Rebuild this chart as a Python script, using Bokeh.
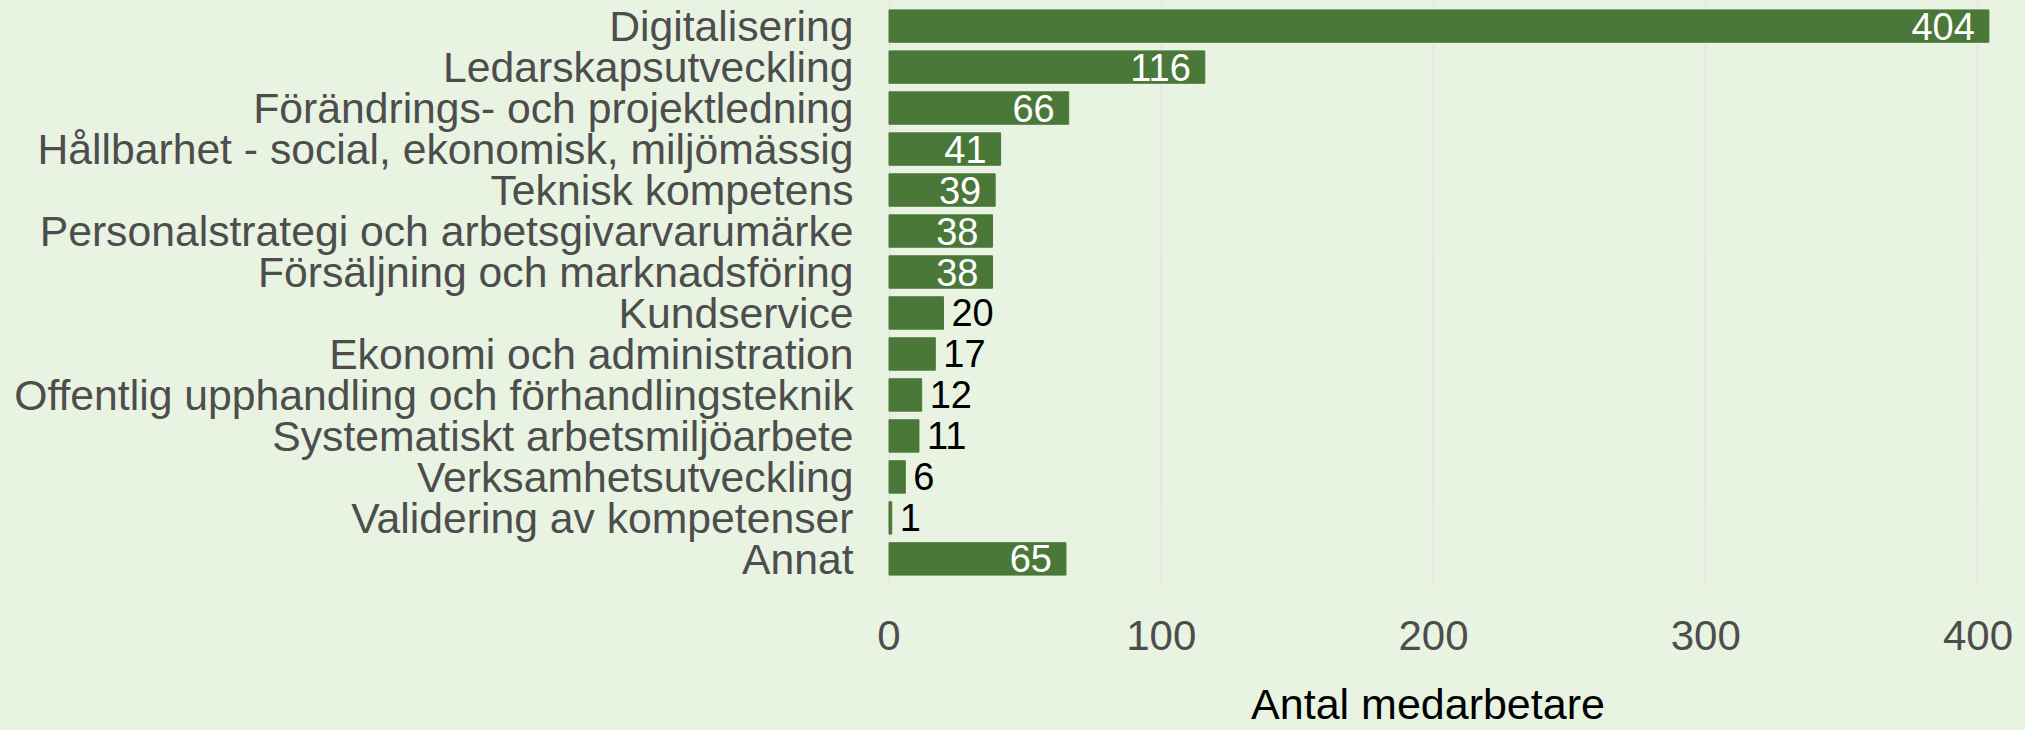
from bokeh.plotting import figure
from bokeh.models import ColumnDataSource, Range1d, FixedTicker
from bokeh.core.properties import value
from bokeh.embed import file_html
from bokeh.resources import INLINE

# ---- data -------------------------------------------------------------
categories = [
    "Digitalisering",
    "Ledarskapsutveckling",
    "Förändrings- och projektledning",
    "Hållbarhet - social, ekonomisk, miljömässig",
    "Teknisk kompetens",
    "Personalstrategi och arbetsgivarvarumärke",
    "Försäljning och marknadsföring",
    "Kundservice",
    "Ekonomi och administration",
    "Offentlig upphandling och förhandlingsteknik",
    "Systematiskt arbetsmiljöarbete",
    "Verksamhetsutveckling",
    "Validering av kompetenser",
    "Annat",
]
counts = [404, 116, 66, 41, 39, 38, 38, 20, 17, 12, 11, 6, 1, 65]
x_ticks = [0, 100, 200, 300, 400]
x_title = "Antal medarbetare"

# ---- style --------------------------------------------------------------
BG = "#E8F3E1"
BAR = "#4A7838"
GRID = "#E4E6E2"
FONT = "Liberation Sans"
INSIDE_MIN = 30

n = len(categories)
ypos = [n - 1 - i for i in range(n)]
labels = [str(c) for c in counts]

src = ColumnDataSource(dict(y=ypos, cnt=counts, lab=labels))
ins = [i for i, c in enumerate(counts) if c >= INSIDE_MIN]
outs = [i for i, c in enumerate(counts) if c < INSIDE_MIN]
src_in = ColumnDataSource(dict(y=[ypos[i] for i in ins], cnt=[counts[i] for i in ins],
                               lab=[labels[i] for i in ins]))
src_out = ColumnDataSource(dict(y=[ypos[i] for i in outs], cnt=[counts[i] for i in outs],
                                lab=[labels[i] for i in outs]))

p = figure(
    width=2025, height=730,
    output_backend="svg", toolbar_location=None,
    x_range=Range1d(-21.49, 417.45),
    y_range=Range1d(-0.6, n - 1 + 0.6),
    min_border_left=830, min_border_right=0, min_border_top=1, min_border_bottom=147,
    background_fill_color=BG, border_fill_color=BG, outline_line_color=None,
)

p.hbar(y="y", right="cnt", left=0, height=0.79, source=src,
       fill_color=BAR, line_color=BAR)

p.text(x="cnt", y="y", text="lab", source=src_in, x_offset=-14,
       text_align="right", text_baseline="middle", text_color="white",
       text_font=value(FONT), text_font_size="38px")
p.text(x="cnt", y="y", text="lab", source=src_out, x_offset=8,
       text_align="left", text_baseline="middle", text_color="black",
       text_font=value(FONT), text_font_size="38px")

# axes
p.xaxis.ticker = FixedTicker(ticks=x_ticks)
p.yaxis.ticker = FixedTicker(ticks=ypos)
p.yaxis.major_label_overrides = {int(y): c for y, c in zip(ypos, categories)}

for ax in (p.xaxis[0], p.yaxis[0]):
    ax.axis_line_color = None
    ax.major_tick_line_color = None
    ax.minor_tick_line_color = None
    ax.major_label_text_font = FONT
    ax.major_label_text_color = "#4D4D4D"

p.yaxis.major_label_text_font_size = "42.7px"
p.yaxis.major_label_standoff = -29
p.xaxis.major_label_text_font_size = "42px"
p.xaxis.major_label_standoff = 31

p.xaxis.axis_label = x_title
p.xaxis.axis_label_text_font = FONT
p.xaxis.axis_label_text_font_size = "43px"
p.xaxis.axis_label_text_font_style = "normal"
p.xaxis.axis_label_text_color = "black"
p.xaxis.axis_label_standoff = 27

p.ygrid.grid_line_color = None
p.xgrid.grid_line_color = GRID
p.xgrid.grid_line_width = 2

html = file_html(p, INLINE, title="Antal medarbetare")
html = html.replace("</head>", "<style>html,body{background:%s;}</style></head>" % BG, 1)
open("out.html", "w").write(html)
